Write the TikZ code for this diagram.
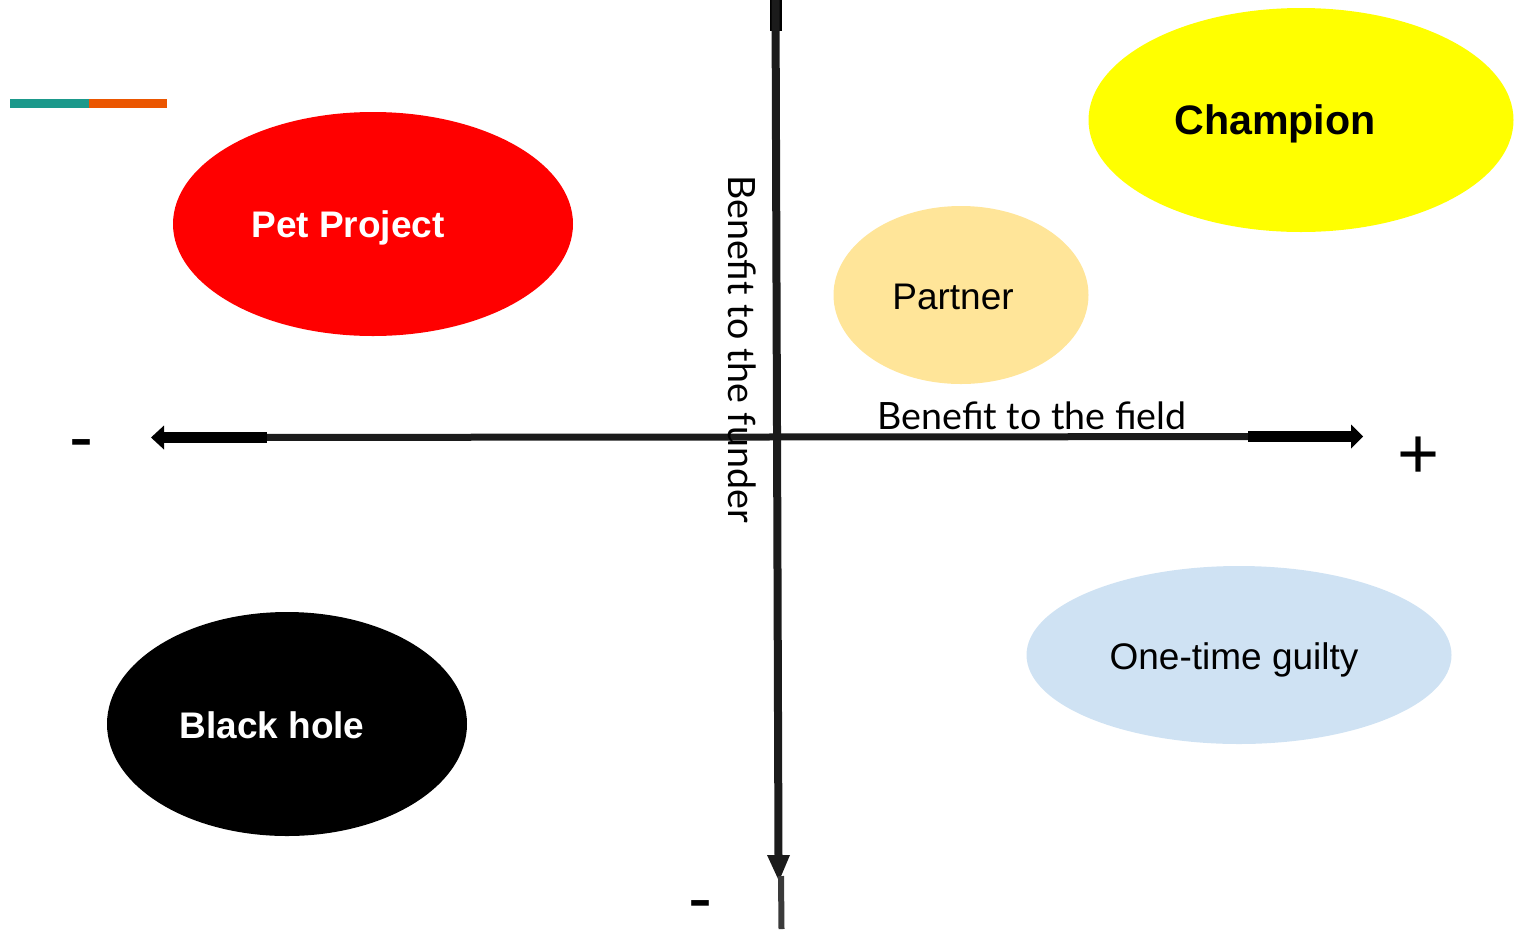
\documentclass[tikz,border=0pt]{standalone}
\usepackage{fontspec}
\setmainfont{Liberation Sans}
\newfontfamily\latofont{Lato}
\usetikzlibrary{shapes.geometric}
\definecolor{axisgray}{HTML}{1B1B1B}
\definecolor{tailgray}{HTML}{3A3A3A}
\definecolor{tealbar}{HTML}{1B998B}
\definecolor{orangebar}{HTML}{EB5600}
\definecolor{partnerfill}{HTML}{FFE599}
\definecolor{guiltyfill}{HTML}{CFE2F3}
\definecolor{champfill}{HTML}{FFFF00}
\tikzset{
  blob/.style={ellipse, draw=none, inner sep=0pt, outer sep=0pt},
  bigtxt/.style={font=\fontsize{27.75}{32}\selectfont, anchor=base, inner sep=0pt},
  boldtxt/.style={font=\fontsize{27.75}{32}\selectfont\bfseries, anchor=base, inner sep=0pt},
  axislabel/.style={font=\latofont\fontsize{28.2}{32}\selectfont, inner sep=0pt},
  signtxt/.style={font=\fontsize{54}{60}\selectfont, anchor=base, inner sep=0pt},
}
\begin{document}
\begin{tikzpicture}[x=0.75pt, y=-0.75pt]
\useasboundingbox (0,0) rectangle (1516,929);
% colour bar
\fill[tealbar] (10,99) rectangle (89,108);
\fill[orangebar] (89,99) rectangle (167,108);
% ellipses
\node[blob, fill=red, minimum width=300pt, minimum height=168pt] (pet) at (373,224) {};
\node[blob, fill=champfill, minimum width=318.75pt, minimum height=168pt] (champ) at (1301,120) {};
\node[blob, fill=partnerfill, minimum width=191.25pt, minimum height=133.5pt] (partner) at (961,295) {};
\node[blob, fill=guiltyfill, minimum width=318.75pt, minimum height=133.5pt] (guilty) at (1239,655) {};
\node[blob, fill=black, minimum width=270pt, minimum height=168pt] (hole) at (287,724) {};
% ellipse labels
\node[boldtxt, text=white] (petT) at (348,237) {Pet Project};
\node[boldtxt, font=\fontsize{30.9}{36}\selectfont\bfseries] (champT) at (1275,134) {Champion};
\node[bigtxt] (partnerT) at (953,309) {Partner};
\node[bigtxt] (guiltyT) at (1234,669) {One-time guilty};
\node[boldtxt, text=white] (holeT) at (272,738) {Black hole};
% horizontal axis
\coordinate (hL) at (151,437.5);
\coordinate (hR) at (1363,436.5);
\coordinate (hLin) at (160,437.5);
\coordinate (hRin) at (1354,436.5);
\draw[axisgray, line width=5.25pt] (hLin) -- (hRin);
\fill[black] (163,432) rectangle (267,443);
\fill[black] (1248,431) rectangle (1352,442);
\fill[black] (hL) -- (164,425.5) -- (164,449.5) -- cycle;
\fill[black] (hR) -- (1351,424.5) -- (1351,448.5) -- cycle;
% vertical axis
\coordinate (vT) at (775.5,0);
\coordinate (vB) at (778.5,858);
\coordinate (vTip) at (779,881);
\coordinate (vEnd) at (781.5,929);
\fill[black] (770,0) rectangle (782,31);
\draw[axisgray, line width=6pt] (vT) -- (vB);
\fill[axisgray] (vTip) -- (767,855) -- (790,855) -- cycle;
\draw[tailgray, line width=4.5pt] (781,876) -- (vEnd);
% axis labels
\node[axislabel, rotate=-90] (funder) at (742,349) {Benefit to the funder};
\node[axislabel, anchor=base] (field) at (1032,429) {Benefit to the field};
% signs
\node[signtxt] (minusL) at (81,461.5) {-};
\node[signtxt] (minusB) at (700,922.5) {-};
\node[signtxt] (plusR) at (1419,478) {+};
\end{tikzpicture}
\end{document}
